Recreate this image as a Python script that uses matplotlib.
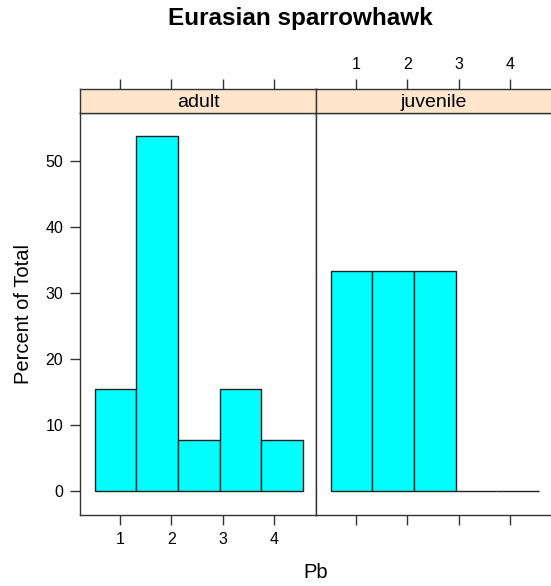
import matplotlib
matplotlib.use("Agg")
import matplotlib.pyplot as plt
import numpy as np

plt.rcParams['font.family'] = ['Liberation Sans', 'DejaVu Sans']

panels = ["adult", "juvenile"]
bin_edges = [0.51, 1.32, 2.13, 2.94, 3.75, 4.56]
percent_adult = [15.38, 53.85, 7.69, 15.38, 7.69]
percent_juvenile = [33.33, 33.33, 33.33, 0.0, 0.0]
values = [percent_adult, percent_juvenile]
x_ticks = [1, 2, 3, 4]
y_ticks = [0, 10, 20, 30, 40, 50]

W, H = 551, 586
fig = plt.figure(figsize=(W/100, H/100), dpi=100)

def fx(px): return px / W
def fy(py): return 1 - py / H

left, mid, right = 80, 316, 552
ptop, pbot = 113, 515
stop = 89

xlim = (0.22, 4.82)
ylim = (-3.65, 57.3)
tick_fs = 11.5
edge = '#222222'

for i, (name, vals) in enumerate(zip(panels, values)):
    x0 = left if i == 0 else mid
    x1 = mid if i == 0 else right
    ax = fig.add_axes([fx(x0), fy(pbot), fx(x1) - fx(x0), fy(ptop) - fy(pbot)])
    widths = np.diff(bin_edges)
    ax.bar(bin_edges[:-1], vals, width=widths, align='edge', color='#00FFFF',
           edgecolor=edge, linewidth=1.0)
    ax.set_xlim(*xlim)
    ax.set_ylim(*ylim)
    ax.set_xticks(x_ticks)
    ax.set_yticks(y_ticks)
    for s in ax.spines.values():
        s.set_linewidth(1.0)
        s.set_color('#333333')
    ax.tick_params(axis='both', length=7, width=1.0, color='#333333',
                   labelsize=tick_fs, pad=5)
    if i == 0:
        ax.tick_params(axis='x', bottom=True, labelbottom=True, top=False)
        ax.tick_params(axis='y', left=True, labelleft=True, right=False)
        ax.set_ylabel("Percent of Total", fontsize=14.5, labelpad=9)
    else:
        ax.tick_params(axis='x', bottom=True, labelbottom=False, top=False)
        ax.tick_params(axis='y', left=False, labelleft=False, right=True, labelright=False)
    # strip
    sax = fig.add_axes([fx(x0), fy(ptop), fx(x1) - fx(x0), fy(stop) - fy(ptop)])
    sax.set_facecolor('#FFE5CC')
    sax.set_xlim(*xlim)
    sax.set_yticks([])
    sax.set_xticks(x_ticks)
    for s in sax.spines.values():
        s.set_linewidth(1.0)
        s.set_color('#333333')
    sax.tick_params(axis='x', bottom=False, labelbottom=False, top=True,
                    labeltop=(i == 1), length=7, width=1.0, color='#333333',
                    labelsize=tick_fs, pad=5)
    sax.text(0.5, 0.45, name, transform=sax.transAxes, ha='center', va='center',
             fontsize=14)

fig.text(fx(300), fy(19), "Eurasian sparrowhawk", ha='center', va='center',
         fontsize=17.5, fontweight='bold')
fig.text(fx(316), fy(573), "Pb", ha='center', va='center', fontsize=14.5)

fig.savefig("out.png", dpi=100, facecolor='white')
